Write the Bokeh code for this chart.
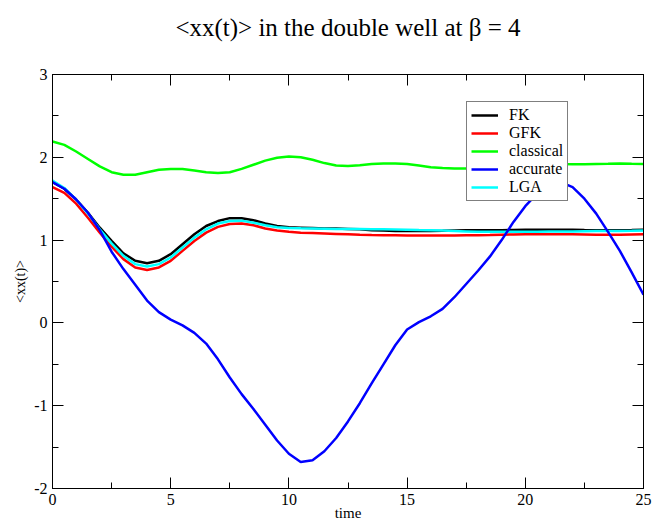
from bokeh.plotting import figure
from bokeh.models import Range1d, LinearAxis, Legend, LegendItem, FixedTicker
from bokeh.embed import file_html
from bokeh.resources import INLINE

# ---- data ----
t = [0, 0.5, 1, 1.5, 2, 2.5, 3, 3.5, 4, 4.5, 5, 5.5, 6, 6.5, 7, 7.5, 8, 8.5, 9, 9.5,
     10, 10.5, 11, 11.5, 12, 12.5, 13, 13.5, 14, 14.5, 15, 15.5, 16, 16.5, 17, 17.5,
     18, 18.5, 19, 19.5, 20, 20.5, 21, 21.5, 22, 22.5, 23, 23.5, 24, 24.5, 25]

fk = [1.70, 1.62, 1.49, 1.33, 1.15, 0.99, 0.84, 0.75, 0.72, 0.75, 0.83, 0.95, 1.07, 1.17, 1.23, 1.265, 1.265, 1.24, 1.20, 1.17,
      1.155, 1.15, 1.145, 1.14, 1.14, 1.135, 1.13, 1.12, 1.115, 1.11, 1.11, 1.11, 1.11, 1.112, 1.115, 1.118,
      1.12, 1.12, 1.12, 1.122, 1.125, 1.125, 1.125, 1.125, 1.125, 1.122, 1.12, 1.12, 1.12, 1.122, 1.125]

gfk = [1.64, 1.57, 1.44, 1.27, 1.09, 0.92, 0.77, 0.67, 0.64, 0.67, 0.75, 0.87, 0.99, 1.09, 1.16, 1.195, 1.20, 1.18, 1.14, 1.115,
       1.10, 1.09, 1.085, 1.08, 1.075, 1.07, 1.065, 1.062, 1.06, 1.058, 1.055, 1.055, 1.055, 1.055, 1.055, 1.058,
       1.06, 1.062, 1.065, 1.068, 1.07, 1.07, 1.07, 1.07, 1.07, 1.068, 1.065, 1.065, 1.065, 1.068, 1.07]

classical = [2.19, 2.15, 2.07, 1.98, 1.89, 1.82, 1.79, 1.79, 1.82, 1.85, 1.86, 1.86, 1.84, 1.82, 1.81, 1.82, 1.86, 1.91, 1.96, 1.995,
             2.01, 2.00, 1.97, 1.93, 1.90, 1.895, 1.905, 1.92, 1.925, 1.925, 1.92, 1.90, 1.88, 1.87, 1.865, 1.865,
             1.88, 1.89, 1.90, 1.91, 1.92, 1.925, 1.93, 1.92, 1.915, 1.915, 1.92, 1.922, 1.925, 1.922, 1.92]

accurate = [1.70, 1.62, 1.49, 1.33, 1.12, 0.86, 0.65, 0.46, 0.27, 0.13, 0.04, -0.03, -0.12, -0.25, -0.44, -0.66, -0.86, -1.04, -1.23, -1.42,
            -1.58, -1.68, -1.66, -1.55, -1.39, -1.19, -0.97, -0.73, -0.50, -0.27, -0.08, 0.01, 0.08, 0.17, 0.31, 0.47,
            0.63, 0.80, 1.00, 1.22, 1.41, 1.56, 1.67, 1.70, 1.64, 1.50, 1.32, 1.10, 0.87, 0.61, 0.34]

lga = [1.72, 1.63, 1.49, 1.32, 1.13, 0.96, 0.81, 0.71, 0.68, 0.71, 0.79, 0.91, 1.03, 1.13, 1.20, 1.23, 1.235, 1.21, 1.18, 1.155,
       1.145, 1.142, 1.14, 1.138, 1.135, 1.135, 1.135, 1.132, 1.13, 1.128, 1.125, 1.122, 1.12, 1.115, 1.11, 1.105,
       1.10, 1.10, 1.10, 1.10, 1.10, 1.102, 1.105, 1.105, 1.105, 1.108, 1.11, 1.11, 1.11, 1.112, 1.115]

x_ticks = [0, 5, 10, 15, 20, 25]
y_ticks = [-2, -1, 0, 1, 2, 3]
x_minor = [2.5, 7.5, 12.5, 17.5, 22.5]
y_minor = [-1.5, -0.5, 0.5, 1.5, 2.5]
y_tick_labels = {-2: "-2", -1: "-1", 0: "0", 1: "1", 2: "2", 3: "3"}
title_text = "<xx(t)> in the double well at \u03b2 = 4"

SERIF = "Liberation Serif"

p = figure(width=654, height=523, x_range=Range1d(0, 25), y_range=Range1d(-2, 3),
           output_backend="svg", toolbar_location=None,
           min_border_left=52, min_border_right=11, min_border_top=74, min_border_bottom=34,
           x_axis_label="time", y_axis_label="<xx(t)>")
p.title.visible = False

p.grid.visible = False
p.outline_line_color = "black"
p.outline_line_width = 1
p.background_fill_color = "white"
p.border_fill_color = "white"

def style_axis(ax, ticks, minor, show_labels):
    ax.ticker = FixedTicker(ticks=ticks, minor_ticks=minor)
    ax.major_tick_in = 11
    ax.major_tick_out = 0
    ax.minor_tick_in = 6
    ax.minor_tick_out = 0
    ax.axis_line_color = "black"
    ax.major_tick_line_color = "black"
    ax.minor_tick_line_color = "black"
    ax.major_label_text_font = SERIF
    ax.major_label_text_font_size = "16px"
    ax.major_label_text_color = "black"
    ax.axis_label_text_font = SERIF
    ax.axis_label_text_font_style = "normal"
    ax.axis_label_text_color = "black"
    if not show_labels:
        ax.major_label_overrides = {k: "" for k in ticks}

style_axis(p.xaxis[0], x_ticks, x_minor, True)
style_axis(p.yaxis[0], y_ticks, y_minor, True)
p.yaxis[0].major_label_overrides = y_tick_labels
p.xaxis[0].axis_label_text_font_size = "15px"
p.yaxis[0].axis_label_text_font_size = "14px"
p.xaxis[0].major_label_standoff = 5
p.xaxis[0].axis_label_standoff = -3
p.yaxis[0].major_label_standoff = 5
p.yaxis[0].axis_label_standoff = 3

# top axis carries the chart title as its label
top = LinearAxis(axis_label=title_text)
right = LinearAxis()
style_axis(top, x_ticks, x_minor, False)
style_axis(right, y_ticks, y_minor, False)
top.major_label_standoff = 0
top.axis_label_text_font_size = "25px"
top.axis_label_standoff = 34
right.major_label_standoff = 0
p.add_layout(top, "above")
p.add_layout(right, "right")

lw = 2.5
r_fk = p.line(t, fk, line_color="black", line_width=lw)
r_gfk = p.line(t, gfk, line_color="#ff0000", line_width=lw)
r_cl = p.line(t, classical, line_color="#00ff00", line_width=lw)
r_lga = p.line(t, lga, line_color="#00ffff", line_width=lw)
r_acc = p.line(t, accurate, line_color="#0000ff", line_width=lw)

legend = Legend(items=[
    LegendItem(label="FK", renderers=[r_fk]),
    LegendItem(label="GFK", renderers=[r_gfk]),
    LegendItem(label="classical", renderers=[r_cl]),
    LegendItem(label="accurate", renderers=[r_acc]),
    LegendItem(label="LGA", renderers=[r_lga]),
], location=(414, 287))
legend.border_line_color = "black"
legend.border_line_width = 1
legend.background_fill_color = "white"
legend.background_fill_alpha = 1
legend.label_text_font = SERIF
legend.label_text_font_size = "16px"
legend.label_text_color = "black"
legend.glyph_width = 27
legend.glyph_height = 14
legend.label_height = 14
legend.label_standoff = 11
legend.spacing = 0
legend.padding = 4
legend.margin = 0
p.add_layout(legend, "center")

open("out.html", "w").write(file_html(p, INLINE))
